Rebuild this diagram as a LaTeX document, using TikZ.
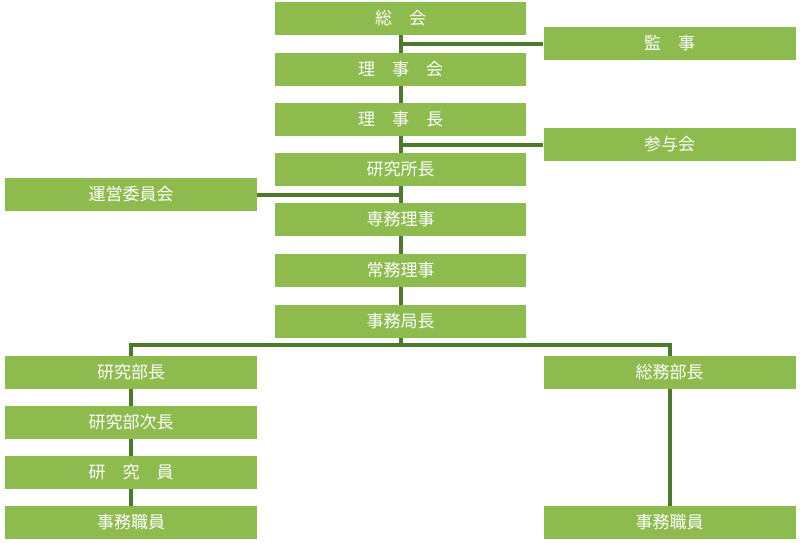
\documentclass[tikz,border=0pt]{standalone}
\usepackage{fontspec}
\usetikzlibrary{calc}
\newfontfamily\cjk{Noto Sans CJK JP}
\begin{document}
\begin{tikzpicture}[x=1pt,y=-1pt,
  box/.style={fill=boxg,text=white,minimum height=33pt,inner sep=0pt,font=\cjk\fontsize{17}{18}\selectfont},
  cbox/.style={box,minimum width=251pt},
  sbox/.style={box,minimum width=252pt},
  link/.style={draw=lineg,line width=4pt}]
\definecolor{boxg}{HTML}{8DBB4E}
\definecolor{lineg}{HTML}{4B7A2B}
\useasboundingbox (0,0) rectangle (800,542);
\node[cbox] (a1) at (400.5,18.5) {総　会};
\node[cbox] (a2) at (400.5,69.5) {理　事　会};
\node[cbox] (a3) at (400.5,119.5) {理　事　長};
\node[cbox] (a4) at (400.5,169.5) {研究所長};
\node[cbox] (a5) at (400.5,219.5) {専務理事};
\node[cbox] (a6) at (400.5,270.5) {常務理事};
\node[cbox] (a7) at (400.5,321.5) {事務局長};
\node[sbox] (k) at (669.5,43.5) {監　事};
\node[sbox] (s) at (669.5,144.5) {参与会};
\node[sbox] (u) at (131,194.5) {運営委員会};
\node[sbox] (l1) at (131,372.5) {研究部長};
\node[sbox] (l2) at (131,422.5) {研究部次長};
\node[sbox] (l3) at (131,472.5) {研　究　員};
\node[sbox] (l4) at (131,522.5) {事務職員};
\node[sbox] (r1) at (669.5,372.5) {総務部長};
\node[sbox] (r2) at (669.5,522.5) {事務職員};
\path[link] (a1.south) -- (a2.north) (a2.south) -- (a3.north) (a3.south) -- (a4.north)
  (a4.south) -- (a5.north) (a5.south) -- (a6.north) (a6.south) -- (a7.north);
\path[link] (k.west) -- (k.west -| a1.south);
\path[link] (s.west) -- (s.west -| a1.south);
\path[link] (u.east) -- (u.east -| a1.south);
\coordinate (j) at ($(a7.south)+(0,7)$);
\path[link] (a7.south) -- (j);
\path[link] (l1.north) |- (j) -| (r1.north);
\path[link] (l1.south) -- (l2.north) (l2.south) -- (l3.north) (l3.south) -- (l4.north);
\path[link] (r1.south) -- (r2.north);
\end{tikzpicture}
\end{document}
